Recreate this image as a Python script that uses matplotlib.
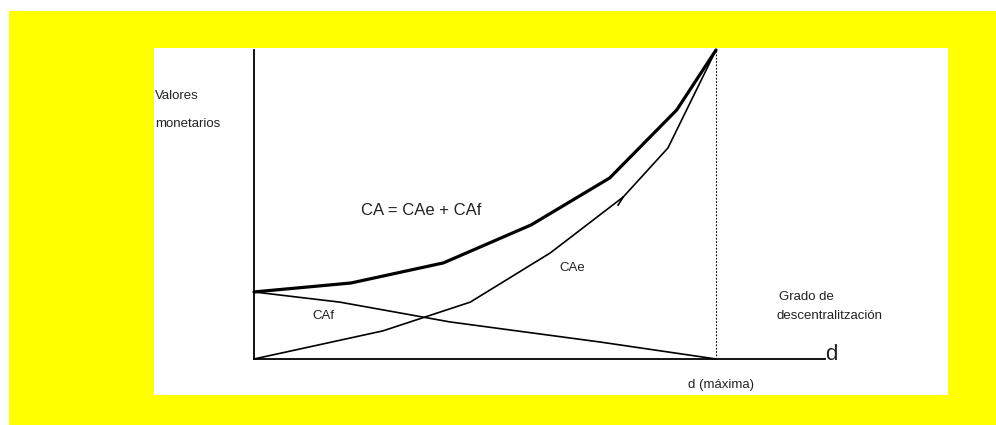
import matplotlib
matplotlib.use("Agg")
import matplotlib.pyplot as plt
from matplotlib.patches import Rectangle
from matplotlib import font_manager

# data (grado de descentralizacion d, valores monetarios)
ca_x = [0, 2.1, 4.1, 6.0, 7.7, 9.15, 10]
ca_y = [21.7, 24.6, 31.1, 43.4, 58.6, 80.6, 100]
cae_x = [0, 2.79, 4.68, 6.41, 7.99, 8.96, 10]
cae_y = [0, 9.1, 18.4, 34.3, 52.4, 68.3, 100]
caf_x = [0, 1.86, 4.24, 7.49, 10]
caf_y = [21.7, 18.4, 12.0, 5.5, 0]
d_max = 10

names = [f.name for f in font_manager.fontManager.ttflist]
fam = ['Liberation Sans Narrow', 'Liberation Sans'] if 'Liberation Sans Narrow' in names else ['Liberation Sans']
plt.rcParams['font.family'] = fam + ['DejaVu Sans']

W, H = 996, 425
fig = plt.figure(figsize=(W / 100, H / 100), dpi=100)
fig.patch.set_facecolor('white')

def px_rect(x0, y0, x1, y1, color):
    fig.patches.append(Rectangle((x0 / W, 1 - y1 / H), (x1 - x0) / W, (y1 - y0) / H,
                                 transform=fig.transFigure, facecolor=color,
                                 edgecolor='none', zorder=-10))

px_rect(9, 11, 996, 425, '#ffff00')
px_rect(154, 48, 948, 395, 'white')

# axes: origin at px (254, 359), d_max at px 716, top (100) at px 50
x0, y0 = 254, 359
sx = (716 - 254) / d_max
xr = (825 - x0) / sx
ax = fig.add_axes([x0 / W, 1 - y0 / H, (825 - x0) / W, (y0 - 50) / H])
ax.set_xlim(0, xr)
ax.set_ylim(0, 100)
ax.patch.set_visible(False)
for s in ['top', 'right']:
    ax.spines[s].set_visible(False)
for s in ['left', 'bottom']:
    ax.spines[s].set_linewidth(1.3)
ax.set_xticks([])
ax.set_yticks([])

ax.plot(ca_x, ca_y, color='black', lw=2.3, clip_on=False, solid_capstyle='round')
ax.plot(cae_x, cae_y, color='black', lw=1.2, clip_on=False)
ax.plot([7.99, 7.88], [52.4, 49.8], color='black', lw=1.2)  # small hook on CAe
ax.plot(caf_x, caf_y, color='black', lw=1.2, clip_on=False)
ax.plot([d_max, d_max], [0, 100], color='black', lw=0.8, ls=(0, (1.5, 1.5)), clip_on=False)

tc = '#222222'
fs = 9.5
ax.text(-2.14, 85.1, 'Valores', fontsize=fs, color=tc, va='center', clip_on=False)
ax.text(-2.14, 76.1, 'monetarios', fontsize=fs, color=tc, va='center', clip_on=False)
ax.text(2.32, 48.2, 'CA = CAe + CAf', fontsize=12, color=tc, va='center')
ax.text(6.60, 29.4, 'CAe', fontsize=fs, color=tc, va='center')
ax.text(1.26, 13.9, 'CAf', fontsize=fs, color=tc, va='center')
ax.text(11.36, 20.1, 'Grado de', fontsize=fs, color=tc, va='center')
ax.text(11.30, 13.9, 'descentralitzación', fontsize=fs, color=tc, va='center')
ax.text(9.39, -8.4, 'd (máxima)', fontsize=fs, color=tc, va='center', clip_on=False)
ax.text(12.36, -0.4, 'd', fontsize=16, color=tc, va='baseline', clip_on=False)

fig.savefig('out.png', dpi=100)
